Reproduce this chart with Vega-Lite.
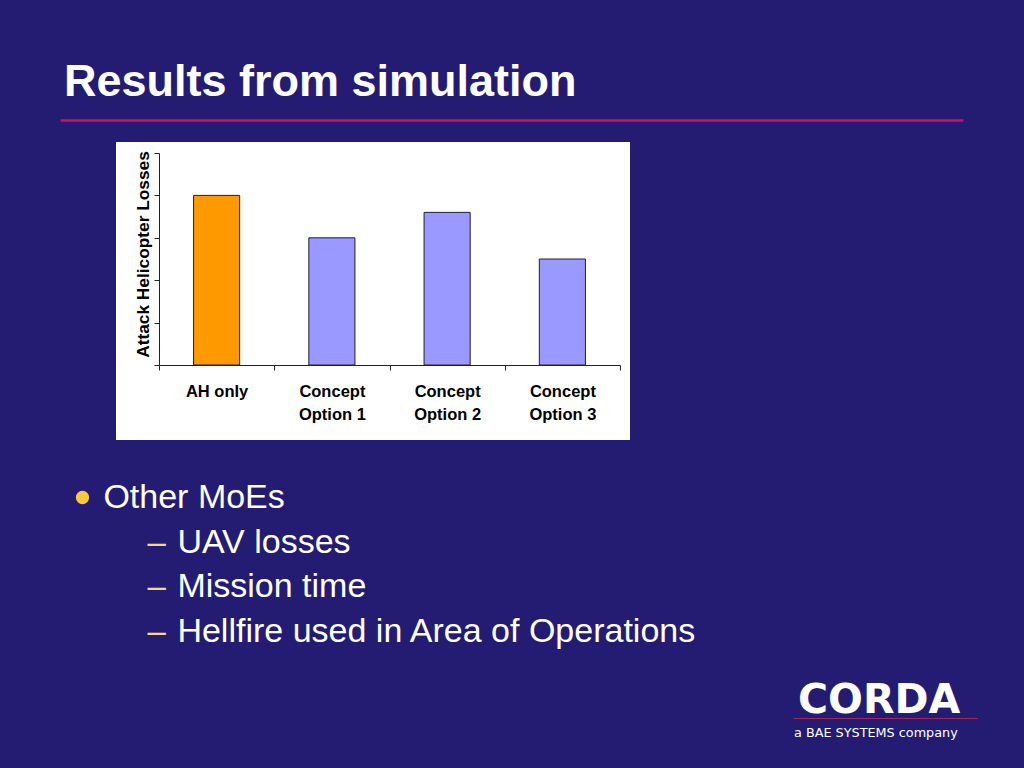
{
  "$schema": "https://vega.github.io/schema/vega-lite/v6.json",
  "width": 514,
  "height": 298,
  "autosize": {"type": "none"},
  "padding": {"left": 116, "top": 142, "right": 394, "bottom": 328},
  "background": "#231C72",
  "title": {
    "text": "Results from simulation",
    "anchor": "start",
    "frame": "group",
    "dx": -52,
    "offset": -21,
    "baseline": "alphabetic",
    "font": "Liberation Sans",
    "fontSize": 45,
    "fontWeight": "bold",
    "color": "#FFFFFF"
  },
  "config": {"view": {"fill": "#FFFFFF", "stroke": null}},
  "resolve": {"scale": {"x": "independent", "y": "independent"}},
  "layer": [
    {
      "data": {"values": [
        {"option": "AH only", "losses": 4},
        {"option": "Concept Option 1", "losses": 3},
        {"option": "Concept Option 2", "losses": 3.6},
        {"option": "Concept Option 3", "losses": 2.5}
      ]},
      "mark": {"type": "bar", "width": {"band": 0.4}, "stroke": "#1E1E3C", "strokeWidth": 1},
      "encoding": {
        "x": {
          "field": "option", "type": "nominal", "sort": null,
          "scale": {"type": "band", "range": [43, 504], "paddingInner": 0, "paddingOuter": 0},
          "axis": {
            "orient": "bottom", "offset": -75, "title": null, "tickBand": "extent",
            "tickSize": 5, "tickColor": "#222222", "domainColor": "#222222", "labelAngle": 0,
            "labelFont": "Liberation Sans", "labelFontSize": 16.5, "labelFontWeight": "bold",
            "labelColor": "#000000", "labelPadding": 13, "labelLineHeight": 23, "grid": false,
            "labelExpr": "isString(datum.value) ? (datum.value === 'AH only' ? datum.value : ['Concept', replace(datum.value, 'Concept ', '')]) : ''"
          }
        },
        "y": {
          "field": "losses", "type": "quantitative",
          "scale": {"domain": [0, 5], "range": [223, 11], "nice": false, "zero": true},
          "axis": {
            "orient": "left", "offset": -43, "values": [0, 1, 2, 3, 4, 5], "labels": false,
            "tickSize": 5, "tickColor": "#222222", "domainColor": "#222222", "grid": false,
            "title": "Attack Helicopter Losses", "titleFont": "Liberation Sans", "titleFontSize": 17.3,
            "titleFontWeight": "bold", "titleColor": "#000000", "titlePadding": 1, "titleY": 112
          }
        },
        "color": {"condition": {"test": "datum.option === 'AH only'", "value": "#FF9900"}, "value": "#9999FF"}
      }
    },
    {
      "data": {"values": [
        {"line": 1, "level": 1, "text": "Other MoEs"},
        {"line": 2, "level": 2, "text": "UAV losses"},
        {"line": 3, "level": 2, "text": "Mission time"},
        {"line": 4, "level": 2, "text": "Hellfire used in Area of Operations"}
      ]},
      "encoding": {
        "x": {
          "field": "level", "type": "quantitative",
          "scale": {"domain": [0.4135, 12.616], "range": [-56, 847], "nice": false, "zero": false},
          "axis": {"orient": "top", "offset": 22, "domainColor": "#C8106A", "domainWidth": 2.5, "ticks": false, "labels": false, "title": null, "grid": false}
        },
        "y": {
          "field": "line", "type": "ordinal",
          "scale": {"type": "point", "domain": [1, 2, 3, 4], "range": [366, 500], "padding": 0},
          "axis": null
        }
      },
      "layer": [
        {
          "mark": {"type": "text", "align": "left", "baseline": "alphabetic", "font": "Liberation Sans", "fontSize": 34, "color": "#FFFFFF"},
          "encoding": {"text": {"field": "text"}}
        },
        {
          "transform": [{"filter": "datum.level === 1"}],
          "mark": {"type": "circle", "size": 177, "color": "#FBC93D", "opacity": 1, "xOffset": -20.9, "yOffset": -10.5}
        },
        {
          "transform": [{"filter": "datum.level === 2"}],
          "mark": {"type": "text", "text": "–", "align": "left", "baseline": "alphabetic", "font": "Liberation Sans", "fontSize": 33, "color": "#F5D78E", "dx": -30, "dy": 0}
        }
      ]
    },
    {
      "data": {"values": [
        {"line": 1, "item": "CORDA"},
        {"line": 2, "item": "a BAE SYSTEMS company"}
      ]},
      "encoding": {
        "x": {
          "field": "line", "type": "quantitative",
          "scale": {"domain": [-43.75, 2.25], "reverse": true, "range": [677, 861], "nice": false, "zero": false},
          "axis": {"orient": "bottom", "offset": 278, "domainColor": "#A52A4A", "domainWidth": 1, "ticks": false, "labels": false, "title": null, "grid": false}
        },
        "y": {
          "field": "line", "type": "quantitative",
          "scale": {"domain": [1, 2], "range": [571, 595], "nice": false, "zero": false},
          "axis": null
        },
        "text": {"field": "item"}
      },
      "layer": [
        {
          "transform": [{"filter": "datum.line === 1"}],
          "mark": {"type": "text", "align": "left", "baseline": "alphabetic", "font": "DejaVu Sans", "fontWeight": "bold", "fontSize": 41, "color": "#FFFFFF"}
        },
        {
          "transform": [{"filter": "datum.line === 2"}],
          "mark": {"type": "text", "align": "left", "baseline": "alphabetic", "font": "DejaVu Sans", "fontSize": 12.8, "color": "#FFFFFF"}
        }
      ]
    }
  ]
}
